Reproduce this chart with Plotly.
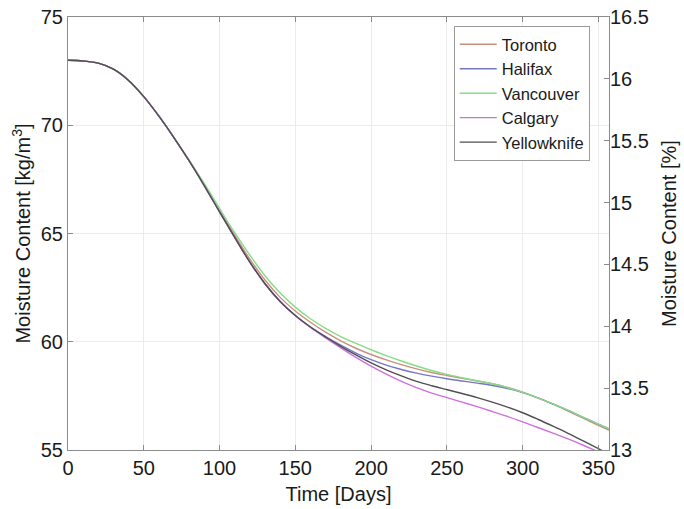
import plotly.graph_objects as go

# Simulated moisture content of the wall layer over one year, per city
days = [0, 10, 20, 30, 40, 50, 60, 70, 80, 90, 100, 110, 120, 130, 140, 150, 160, 170, 180,
        190, 200, 210, 220, 230, 240, 250, 260, 270, 280, 290, 300, 310, 320, 330, 340, 350, 360]

toronto = [73.00, 72.97, 72.87, 72.59, 72.07, 71.32, 70.42, 69.42, 68.35, 67.23, 66.06, 64.92,
           63.82, 62.85, 62.05, 61.42, 60.90, 60.44, 60.04, 59.70, 59.41, 59.16, 58.94, 58.75,
           58.58, 58.44, 58.31, 58.19, 58.06, 57.89, 57.67, 57.41, 57.12, 56.80, 56.47, 56.14, 55.81]

halifax = [73.00, 72.97, 72.87, 72.59, 72.07, 71.32, 70.42, 69.42, 68.35, 67.20, 66.00, 64.82,
           63.68, 62.68, 61.86, 61.21, 60.68, 60.24, 59.84, 59.48, 59.17, 58.92, 58.72, 58.55,
           58.41, 58.29, 58.19, 58.09, 57.98, 57.84, 57.65, 57.41, 57.13, 56.83, 56.51, 56.20, 55.88]

vancouver = [73.00, 72.97, 72.87, 72.59, 72.07, 71.32, 70.42, 69.42, 68.38, 67.30, 66.16, 65.04,
             64.00, 63.05, 62.25, 61.60, 61.06, 60.62, 60.24, 59.92, 59.63, 59.36, 59.11, 58.88,
             58.67, 58.49, 58.34, 58.20, 58.06, 57.88, 57.66, 57.41, 57.13, 56.83, 56.51, 56.20, 55.88]

calgary = [73.00, 72.97, 72.87, 72.59, 72.07, 71.32, 70.42, 69.42, 68.35, 67.20, 66.00, 64.82,
           63.68, 62.68, 61.86, 61.21, 60.66, 60.18, 59.72, 59.28, 58.87, 58.50, 58.17, 57.88,
           57.63, 57.42, 57.21, 57.00, 56.78, 56.55, 56.30, 56.04, 55.78, 55.51, 55.22, 54.91, 54.58]

yellowknife = [73.00, 72.97, 72.87, 72.59, 72.07, 71.32, 70.42, 69.42, 68.35, 67.20, 66.00, 64.82,
               63.68, 62.68, 61.86, 61.21, 60.68, 60.22, 59.79, 59.39, 59.02, 58.70, 58.42, 58.17,
               57.97, 57.79, 57.61, 57.42, 57.21, 56.98, 56.72, 56.42, 56.10, 55.77, 55.42, 55.06, 54.69]

cities = ["Toronto", "Halifax", "Vancouver", "Calgary", "Yellowknife"]
series = [toronto, halifax, vancouver, calgary, yellowknife]
colors = ["#c8907c", "#7676c8", "#86dc86", "#cf6fdf", "#4f4f4f"]

x_ticks = [0, 50, 100, 150, 200, 250, 300, 350]
left_ticks = [55, 60, 65, 70, 75]
right_ticks = [13, 13.5, 14, 14.5, 15, 15.5, 16, 16.5]
right_labels = ["13", "13.5", "14", "14.5", "15", "15.5", "16", "16.5"]

FONT = "Liberation Sans, Arial, Helvetica, sans-serif"
AXIS = "#8c8c8c"
GRID = "#ebebeb"

fig = go.Figure()
for name, vals, col in zip(cities, series, colors):
    fig.add_trace(go.Scatter(x=days, y=vals, name=name, mode="lines",
                             line=dict(color=col, width=1.4, shape="spline", smoothing=1.0)))

# percentage axis carrier (kg/m3 -> %), kept invisible
fig.add_trace(go.Scatter(x=[0, 350], y=[13, 16.5], yaxis="y2", mode="lines",
                         line=dict(width=0), showlegend=False, hoverinfo="skip"))

fig.update_layout(
    width=684, height=509,
    margin=dict(l=68, r=75, t=17, b=59),
    paper_bgcolor="white", plot_bgcolor="white",
    font=dict(family=FONT, size=20, color="#1a1a1a"),
    showlegend=True,
    legend=dict(x=0.713, y=0.979, xanchor="left", yanchor="top",
                bgcolor="white", bordercolor="#9a9a9a", borderwidth=1,
                font=dict(size=16.5, color="#1a1a1a"), itemwidth=37,
                tracegroupgap=0),
    xaxis=dict(range=[0, 357], tickvals=x_ticks, showgrid=True, gridcolor=GRID,
               showline=True, linecolor=AXIS, linewidth=1, mirror="ticks",
               ticks="inside", ticklen=5, tickcolor=AXIS, zeroline=False,
               automargin=False,
               title=dict(text="Time [Days]", standoff=8, font=dict(size=20))),
    yaxis=dict(range=[55, 75], tickvals=left_ticks, showgrid=True, gridcolor=GRID,
               showline=True, linecolor=AXIS, linewidth=1, mirror=True,
               ticks="inside", ticklen=5, tickcolor=AXIS, zeroline=False,
               automargin=False,
               title=dict(text="Moisture Content [kg/m<sup>3</sup>]", standoff=4,
                          font=dict(size=20))),
    yaxis2=dict(range=[13, 16.5], overlaying="y", side="right", tickvals=right_ticks,
                ticktext=right_labels, showgrid=False, showline=False,
                ticks="inside", ticklen=5, tickcolor=AXIS, zeroline=False,
                automargin=False,
                title=dict(text="Moisture Content [%]", standoff=14, font=dict(size=20))),
)

fig.write_html("out.html")
